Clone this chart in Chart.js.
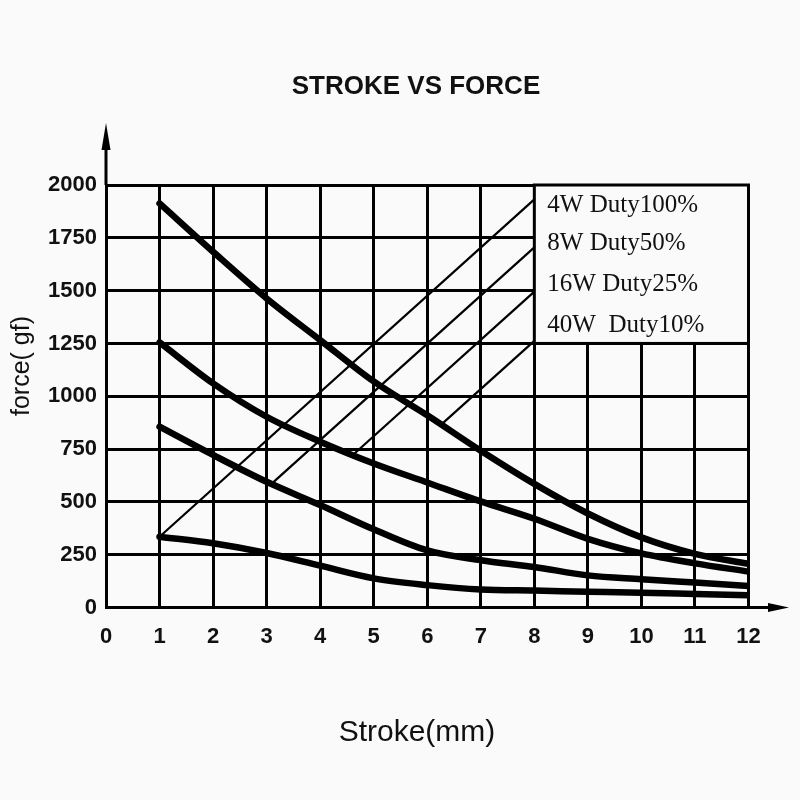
<!DOCTYPE html>
<html>
<head>
<meta charset="utf-8">
<script src="https://cdn.jsdelivr.net/npm/chart.js@4/dist/chart.umd.min.js"></script>
<style>
  html, body { margin: 0; padding: 0; background: #fafafa; }
  #wrap { width: 800px; height: 800px; }
</style>
</head>
<body>
<div id="wrap"><canvas id="c" width="800" height="800"></canvas></div>
<script>
// ---- data ----
const strokeMm = [1, 2, 3, 4, 5, 6, 7, 8, 9, 10, 11, 12];
const force40W = [1913, 1684, 1463, 1266, 1070, 910, 742, 585, 445, 332, 254, 207];
const force16W = [1255, 1061, 903, 785, 682, 592, 502, 420, 325, 256, 209, 170];
const force8W  = [856, 722, 595, 485, 370, 270, 224, 192, 152, 134, 118, 102];
const force4W  = [335, 304, 258, 198, 138, 106, 85, 80, 75, 70, 64, 58];

// leader lines (x in mm, y in gf) from curve to legend box
const leader4W  = [[1, 335], [8, 1932]];
const leader8W  = [[3.09, 585], [8, 1705]];
const leader16W = [[4.61, 722], [8, 1495]];
const leader40W = [[6.26, 866], [8, 1262]];

const legendLabels = ['4W Duty100%', '8W Duty50%', '16W Duty25%', '40W  Duty10%'];
const xTicks = [0, 1, 2, 3, 4, 5, 6, 7, 8, 9, 10, 11, 12];
const yTicks = [0, 250, 500, 750, 1000, 1250, 1500, 1750, 2000];
const legendBox = { xMin: 8, xMax: 12, yMin: 1250, yMax: 2000 };

const chartTitle = 'STROKE VS FORCE';
const xTitle = 'Stroke(mm)';
const yTitle = 'force( gf)';

const BG = '#fafafa';

function curve(vals) {
  return strokeMm.map((x, i) => ({ x: x, y: vals[i] }));
}
function seg(pts) {
  return pts.map(p => ({ x: p[0], y: p[1] }));
}
function curveDs(vals) {
  return {
    data: curve(vals), borderColor: '#000', borderWidth: 6.5, pointRadius: 0,
    cubicInterpolationMode: 'monotone', borderCapStyle: 'round', borderJoinStyle: 'round', fill: false
  };
}
function leaderDs(pts) {
  return { data: seg(pts), borderColor: '#000', borderWidth: 2.2, pointRadius: 0, tension: 0, fill: false };
}

const bgPlugin = {
  id: 'bg',
  beforeDraw(chart) {
    const ctx = chart.ctx;
    ctx.save();
    ctx.fillStyle = BG;
    ctx.fillRect(0, 0, chart.width, chart.height);
    ctx.restore();
  }
};

const legendPlugin = {
  id: 'legendBox',
  beforeDatasetsDraw(chart) {
    const ctx = chart.ctx;
    const xs = chart.scales.x, ys = chart.scales.y;
    const l = xs.getPixelForValue(legendBox.xMin), r = xs.getPixelForValue(legendBox.xMax);
    const t = ys.getPixelForValue(legendBox.yMax), b = ys.getPixelForValue(legendBox.yMin);
    ctx.save();
    ctx.fillStyle = BG;
    ctx.fillRect(l, t, r - l, b - t);
    ctx.strokeStyle = '#000';
    ctx.lineWidth = 3;
    ctx.strokeRect(l, t, r - l, b - t);
    ctx.fillStyle = '#111';
    ctx.font = '25px "Liberation Serif"';
    ctx.textBaseline = 'middle';
    ctx.textAlign = 'left';
    const offs = [20, 58, 99, 140];
    legendLabels.forEach((s, i) => ctx.fillText(s, l + 13, t + offs[i]));
    ctx.restore();
  }
};

const decoPlugin = {
  id: 'deco',
  afterDraw(chart) {
    const ctx = chart.ctx;
    const ca = chart.chartArea;
    ctx.save();
    ctx.strokeStyle = '#000';
    ctx.fillStyle = '#000';
    ctx.lineWidth = 3;
    // y axis arrow
    ctx.beginPath();
    ctx.moveTo(ca.left, ca.top);
    ctx.lineTo(ca.left, 140);
    ctx.stroke();
    ctx.beginPath();
    ctx.moveTo(ca.left, 123);
    ctx.lineTo(ca.left - 4.5, 150);
    ctx.lineTo(ca.left + 4.5, 150);
    ctx.closePath();
    ctx.fill();
    // x axis arrow
    ctx.beginPath();
    ctx.moveTo(ca.right, ca.bottom);
    ctx.lineTo(775, ca.bottom);
    ctx.stroke();
    ctx.beginPath();
    ctx.moveTo(789, ca.bottom);
    ctx.lineTo(768, ca.bottom - 4.5);
    ctx.lineTo(768, ca.bottom + 4.5);
    ctx.closePath();
    ctx.fill();
    // titles
    ctx.fillStyle = '#111';
    ctx.textAlign = 'center';
    ctx.textBaseline = 'middle';
    ctx.font = 'bold 26px "Liberation Sans"';
    ctx.fillText(chartTitle, 416, 87);
    ctx.font = '30px "Liberation Sans"';
    ctx.fillText(xTitle, 417, 733);
    ctx.save();
    ctx.translate(22, 366);
    ctx.rotate(-Math.PI / 2);
    ctx.font = '25px "Liberation Sans"';
    ctx.fillText(yTitle, 0, 0);
    ctx.restore();
    ctx.restore();
  }
};

new Chart(document.getElementById('c'), {
  type: 'line',
  data: {
    datasets: [
      curveDs(force40W), curveDs(force16W), curveDs(force8W), curveDs(force4W),
      leaderDs(leader4W), leaderDs(leader8W), leaderDs(leader16W), leaderDs(leader40W)
    ]
  },
  options: {
    responsive: false,
    animation: false,
    devicePixelRatio: 1,
    layout: { padding: { left: 0, right: 51.5, top: 185, bottom: 0 } },
    plugins: {
      legend: { display: false },
      tooltip: { enabled: false },
      title: { display: false }
    },
    scales: {
      x: {
        type: 'linear', min: 0, max: 12,
        afterFit(s) { s.height = 192.5; },
        afterBuildTicks(s) { s.ticks = xTicks.map(v => ({ value: v })); },
        ticks: { color: '#111', padding: 16, font: { family: 'Liberation Sans', size: 22, weight: 'bold' }, maxRotation: 0, autoSkip: false, callback: v => String(v) },
        grid: { color: '#000', lineWidth: 3, drawTicks: false },
        border: { color: '#000', width: 3 }
      },
      y: {
        type: 'linear', min: 0, max: 2000,
        afterFit(s) { s.width = 106; },
        afterBuildTicks(s) { s.ticks = yTicks.map(v => ({ value: v })); },
        ticks: { color: '#111', padding: 9, font: { family: 'Liberation Sans', size: 22, weight: 'bold' }, autoSkip: false, callback: v => String(v) },
        grid: { color: '#000', lineWidth: 3, drawTicks: false },
        border: { color: '#000', width: 3 }
      }
    }
  },
  plugins: [bgPlugin, legendPlugin, decoPlugin]
});
</script>
</body>
</html>
